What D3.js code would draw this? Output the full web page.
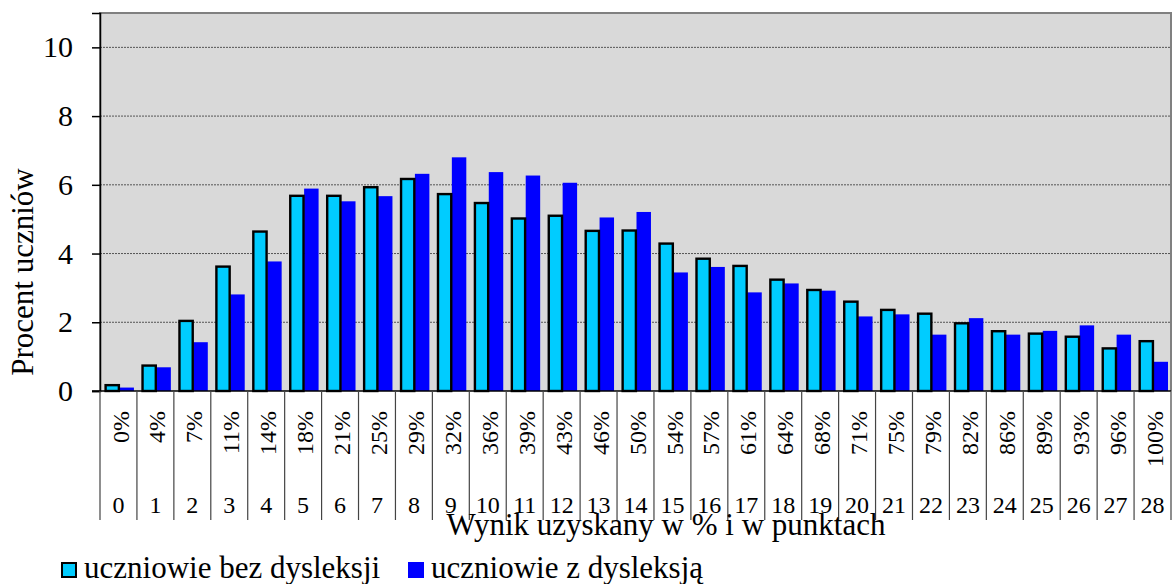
<!DOCTYPE html>
<html>
<head>
<meta charset="utf-8">
<script src="https://cdn.jsdelivr.net/npm/d3@7"></script>
<style>
  body { margin: 0; background: #fff; }
  text { font-family: "Liberation Serif", "Times New Roman", serif; fill: #000; }
</style>
</head>
<body>
<svg id="chart"></svg>
<script>
// scores in points and in percent
const points = d3.range(0, 29).map(String);
const percents = ["0%", "4%", "7%", "11%", "14%", "18%", "21%", "25%", "29%", "32%",
  "36%", "39%", "43%", "46%", "50%", "54%", "57%", "61%", "64%", "68%",
  "71%", "75%", "79%", "82%", "86%", "89%", "93%", "96%", "100%"];

// percent of students
const bezDysleksji = [0.17, 0.74, 2.04, 3.62, 4.64, 5.68, 5.68, 5.93, 6.17, 5.73,
  5.47, 5.02, 5.10, 4.66, 4.67, 4.29, 3.85, 3.64, 3.24, 2.94,
  2.60, 2.36, 2.25, 1.97, 1.74, 1.67, 1.58, 1.24, 1.45];
const zDysleksja = [0.10, 0.69, 1.42, 2.81, 3.77, 5.89, 5.52, 5.67, 6.32, 6.80,
  6.37, 6.27, 6.06, 5.05, 5.21, 3.45, 3.61, 2.87, 3.13, 2.92,
  2.17, 2.23, 1.64, 2.12, 1.64, 1.75, 1.91, 1.64, 0.85];

const seriesNames = ["uczniowie bez dysleksji", "uczniowie z dysleksją"];
const seriesColors = ["#00CCFF", "#0000FF"];
const yTicks = [0, 2, 4, 6, 8, 10];

const width = 1172, height = 584;
const plotLeft = 100, plotRight = 1171, plotTop = 13, plotBottom = 391;

const svg = d3.select("#chart").attr("width", width).attr("height", height);

const x = d3.scaleBand().domain(points).range([plotLeft, plotRight]).padding(0);
const xs = d3.scaleBand().domain([0, 1]).range([5, x.bandwidth() - 3]);
const y = d3.scaleLinear().domain([0, 11]).range([plotBottom, plotTop]);

// plot background
svg.append("rect")
  .attr("x", plotLeft).attr("y", plotTop)
  .attr("width", plotRight - plotLeft).attr("height", plotBottom - plotTop)
  .attr("fill", "#D9D9D9");

// dashed grid
svg.append("g")
  .selectAll("line")
  .data(yTicks.filter(d => d > 0))
  .enter().append("line")
  .attr("x1", plotLeft).attr("x2", plotRight)
  .attr("y1", d => y(d)).attr("y2", d => y(d))
  .attr("stroke", "#555")
  .attr("stroke-width", 1)
  .attr("stroke-dasharray", "2,1");

// plot border
svg.append("path")
  .attr("d", `M${plotLeft},${plotBottom}V${plotTop}H${plotRight}V${plotBottom}`)
  .attr("fill", "none")
  .attr("stroke", "#808080")
  .attr("stroke-width", 2);

// bars
const groups = svg.append("g")
  .selectAll("g")
  .data(points)
  .enter().append("g")
  .attr("transform", d => `translate(${x(d)},0)`);

groups.append("rect")
  .attr("x", xs(1))
  .attr("width", xs.bandwidth())
  .attr("y", (d, i) => y(zDysleksja[i]))
  .attr("height", (d, i) => y(0) - y(zDysleksja[i]))
  .attr("fill", seriesColors[1]);

groups.append("rect")
  .attr("x", xs(0) + 0.6)
  .attr("width", xs.bandwidth() - 1.2)
  .attr("y", (d, i) => y(bezDysleksji[i]))
  .attr("height", (d, i) => y(0) - y(bezDysleksji[i]))
  .attr("fill", seriesColors[0])
  .attr("stroke", "#000")
  .attr("stroke-width", 2.4);

// y axis
const yAxis = svg.append("g")
  .attr("transform", `translate(${plotLeft},0)`)
  .call(d3.axisLeft(y).tickValues(yTicks).tickSize(8).tickPadding(19));
yAxis.select(".domain").attr("stroke", "#000").attr("stroke-width", 1.5);
yAxis.selectAll(".tick line").attr("stroke", "#000").attr("stroke-width", 1.5);
yAxis.selectAll(".tick text")
  .attr("font-family", "Liberation Serif")
  .attr("font-size", 30)
  .attr("fill", "#000");

// x axis line
svg.append("line")
  .attr("x1", plotLeft - 8).attr("x2", plotRight)
  .attr("y1", plotBottom).attr("y2", plotBottom)
  .attr("stroke", "#000").attr("stroke-width", 1.5);

// category dividers (two-level axis)
svg.append("g")
  .selectAll("line")
  .data(points.concat(["end"]))
  .enter().append("line")
  .attr("x1", d => d === "end" ? plotRight : x(d))
  .attr("x2", d => d === "end" ? plotRight : x(d))
  .attr("y1", plotBottom).attr("y2", 520)
  .attr("stroke", "#444").attr("stroke-width", 1.2);

// percent labels
svg.append("g")
  .selectAll("text")
  .data(percents)
  .enter().append("text")
  .attr("transform", (d, i) => `translate(${x(points[i]) + x.bandwidth() / 2},411) rotate(-90)`)
  .attr("dy", "0.42em")
  .attr("text-anchor", "end")
  .attr("font-size", 24)
  .text(d => d);

// point labels
svg.append("g")
  .selectAll("text")
  .data(points)
  .enter().append("text")
  .attr("x", d => x(d) + x.bandwidth() / 2)
  .attr("y", 513)
  .attr("text-anchor", "middle")
  .attr("font-size", 24)
  .text(d => d);

// axis titles
svg.append("text")
  .attr("x", 666).attr("y", 535)
  .attr("text-anchor", "middle")
  .attr("font-size", 31)
  .text("Wynik uzyskany w % i w punktach");

svg.append("text")
  .attr("transform", "translate(33,272) rotate(-90)")
  .attr("text-anchor", "middle")
  .attr("font-size", 31)
  .text("Procent uczniów");

// legend
const legendX = [61, 408];
const legend = svg.append("g")
  .selectAll("g")
  .data(seriesNames)
  .enter().append("g")
  .attr("transform", (d, i) => `translate(${legendX[i]},562)`);

legend.append("rect")
  .attr("x", (d, i) => i === 0 ? 1 : 0)
  .attr("y", (d, i) => i === 0 ? 1 : 0)
  .attr("width", (d, i) => i === 0 ? 14 : 16)
  .attr("height", (d, i) => i === 0 ? 14 : 16)
  .attr("fill", (d, i) => seriesColors[i])
  .attr("stroke", (d, i) => i === 0 ? "#000" : "none")
  .attr("stroke-width", 2);

legend.append("text")
  .attr("x", 23)
  .attr("y", 16)
  .attr("font-size", 31)
  .text(d => d);
</script>
</body>
</html>
